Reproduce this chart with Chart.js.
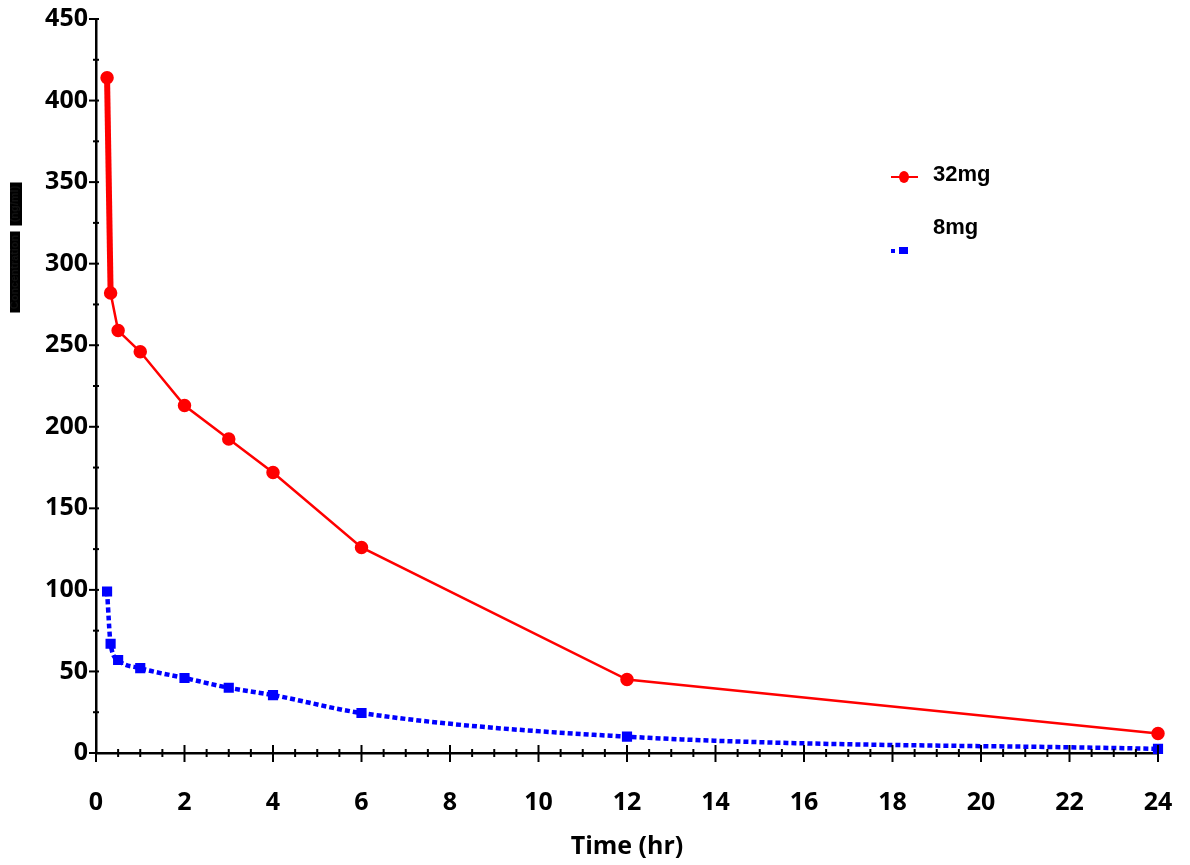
<!DOCTYPE html>
<html>
<head>
<meta charset="utf-8">
<script src="https://cdn.jsdelivr.net/npm/chart.js@4"></script>
<style>
  body { margin: 0; background: #fff; }
  #wrap { width: 1190px; height: 865px; position: relative; }
</style>
</head>
<body>
<div id="wrap"><canvas id="pkChart"></canvas></div>
<script>
// Sampling times (hr)
const times = [0.25, 0.33, 0.5, 1, 2, 3, 4, 6, 12, 24];
// Mean concentration per dose group
const dose32 = [414, 282, 259, 246, 213, 192.5, 172, 126, 45, 12];
const dose8 = [99, 67, 57, 52, 46, 40, 35.5, 24.5, 10, 2.5];
const seriesLabels = ["32mg", "8mg"];
// Axis ticks
const xMax = 24, xStep = 2, xMinor = 0.5;
const yMax = 450, yStep = 50, yMinor = 25;

const tickFont = { family: "'Open Sans', sans-serif", size: 25, weight: "bold" };

function toPoints(xs, ys) {
    return xs.map((x, i) => ({ x: x, y: ys[i] }));
}

// Draws axis tick marks crossing the axis lines (major + minor)
const axisTicks = {
    id: "axisTicks",
    afterDraw(chart) {
        const ctx = chart.ctx;
        const xs = chart.scales.x, ys = chart.scales.y;
        const x0 = xs.left, y0 = ys.bottom;
        ctx.save();
        ctx.strokeStyle = "#000";
        ctx.lineWidth = 2;
        for (let v = 0; v <= xMax + 1e-9; v += xMinor) {
            const px = xs.getPixelForValue(v);
            const major = Math.abs(v / xStep - Math.round(v / xStep)) < 1e-6;
            ctx.beginPath();
            ctx.moveTo(px, major ? y0 - 8 : y0 - 4);
            ctx.lineTo(px, major ? y0 + 9 : y0 + 4);
            ctx.stroke();
        }
        for (let v = 0; v <= yMax + 1e-9; v += yMinor) {
            const py = ys.getPixelForValue(v);
            const major = v % yStep === 0;
            ctx.beginPath();
            ctx.moveTo(major ? x0 - 7 : x0 - 3, py);
            ctx.lineTo(x0 + 3, py);
            ctx.stroke();
        }
        ctx.restore();
    }
};

// Legend at the upper right, and the (blacked-out) y-axis title
const sideText = {
    id: "sideText",
    afterDraw(chart) {
        const ctx = chart.ctx;
        ctx.save();
        // legend: 32mg
        ctx.strokeStyle = "#ff0000";
        ctx.lineWidth = 2;
        ctx.beginPath();
        ctx.moveTo(891, 177);
        ctx.lineTo(918, 177);
        ctx.stroke();
        ctx.fillStyle = "#ff0000";
        ctx.beginPath();
        ctx.ellipse(904, 177, 5, 6, 0, 0, Math.PI * 2);
        ctx.fill();
        ctx.fillStyle = "#000";
        ctx.font = "bold 22px 'Liberation Sans', Arial, sans-serif";
        ctx.textBaseline = "middle";
        ctx.textAlign = "left";
        ctx.fillText(seriesLabels[0], 933, 175);
        ctx.fillText(seriesLabels[1], 933, 228);
        // legend: 8mg
        ctx.fillStyle = "#0000ff";
        ctx.fillRect(891, 249, 4, 4);
        ctx.fillRect(899, 247, 9, 7);
        // y title, redacted in the reference
        ctx.translate(15, 0);
        ctx.rotate(-Math.PI / 2);
        ctx.font = "bold 11px 'Liberation Sans', Arial, sans-serif";
        ctx.textAlign = "center";
        [["Concentration", 272, 81, 10], ["(ng/ml)", 204, 43, 12]].forEach(w => {
            ctx.fillStyle = "#000";
            ctx.fillRect(-w[1] - w[2] / 2, -5, w[2], w[3]);
            ctx.fillStyle = "#111";
            ctx.fillText(w[0], -w[1], 0);
        });
        ctx.restore();
    }
};

new Chart(document.getElementById("pkChart"), {
    type: "line",
    data: {
        datasets: [{
            label: seriesLabels[0],
            data: toPoints(times, dose32),
            borderColor: "#ff0000",
            backgroundColor: "#ff0000",
            borderWidth: 2.5,
            pointStyle: "circle",
            pointRadius: 5.5,
            pointHoverRadius: 5.5,
            tension: 0,
            segment: {
                borderWidth: c => c.p0DataIndex === 0 ? 6 : 2.5
            }
        }, {
            label: seriesLabels[1],
            data: toPoints(times, dose8),
            borderColor: "#0000ff",
            backgroundColor: "#0000ff",
            borderWidth: 4.5,
            borderDash: [5, 3],
            pointStyle: "rect",
            pointRadius: 4,
            pointHoverRadius: 4,
            cubicInterpolationMode: "monotone"
        }]
    },
    options: {
        responsive: true,
        maintainAspectRatio: false,
        animation: false,
        clip: false,
        layout: { padding: { left: 0, right: 32, top: 19, bottom: 0 } },
        plugins: {
            legend: { display: false },
            tooltip: { enabled: false }
        },
        scales: {
            x: {
                type: "linear",
                min: 0,
                max: xMax,
                grid: { display: false, drawTicks: false },
                border: { display: true, color: "#000", width: 2.5 },
                ticks: { stepSize: xStep, color: "#000", font: tickFont, padding: 35, maxRotation: 0 },
                title: {
                    display: true,
                    text: "Time (hr)",
                    color: "#000",
                    font: tickFont,
                    padding: { top: 0, bottom: 3 }
                },
                afterFit: s => { s.height = 112; s.paddingLeft = 0; s.paddingRight = 0; }
            },
            y: {
                min: 0,
                max: yMax,
                grid: { display: false, drawTicks: false },
                border: { display: true, color: "#000", width: 2.5 },
                ticks: { stepSize: yStep, color: "#000", font: tickFont, padding: 8 },
                afterFit: s => { s.width = 96; s.paddingTop = 0; s.paddingBottom = 0; }
            }
        }
    },
    plugins: [axisTicks, sideText]
});
</script>
</body>
</html>
